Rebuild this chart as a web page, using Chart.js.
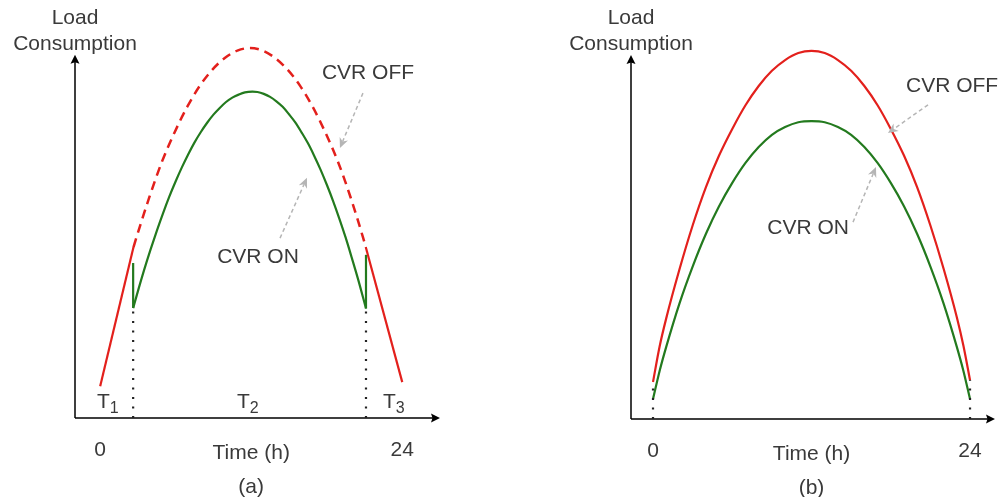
<!DOCTYPE html>
<html>
<head>
<meta charset="utf-8">
<script src="https://cdn.jsdelivr.net/npm/chart.js@4"></script>
<style>
  html, body { margin: 0; padding: 0; background: #fff; }
  #wrap { position: relative; width: 1001px; height: 497px; }
  canvas { position: absolute; top: 0; }
</style>
</head>
<body>
<div id="wrap">
  <canvas id="panelA" width="500" height="497" style="left:0"></canvas>
  <canvas id="panelB" width="501" height="497" style="left:500px"></canvas>
</div>
<script>
// x = hour of day, y = load (relative units, 100 = CVR OFF peak)
const xTicks = [0, 24];

// panel (a): CVR switched on only during T2
const offT1 = [[0, 8.6], [2.65, 46.2]];
const offT2 = [[2.65, 46.2], [2.9, 49.0], [3.9, 59.6], [4.9, 69.2], [5.9, 77.1], [6.9, 84.0],
  [7.9, 89.7], [8.9, 94.1], [9.9, 97.3], [10.9, 99.3], [11.9, 100], [12.9, 99.3], [13.9, 97.3],
  [14.9, 94.1], [15.9, 89.7], [16.9, 84.0], [17.9, 77.1], [18.9, 69.2], [19.9, 59.6],
  [20.9, 48.6], [21.1, 46.2]];
const offT3 = [[21.1, 46.2], [24, 9.7]];
const onDrop = [[2.62, 41.9], [2.62, 29.7]];
const onT2 = [[2.62, 29.7], [3.0, 34.3], [3.5, 40.1], [4.0, 45.5], [4.5, 50.6], [5.0, 55.4],
  [5.5, 59.9], [6.0, 64.0], [6.5, 67.8], [7.0, 71.3], [7.5, 74.5], [8.0, 77.3], [8.5, 79.8],
  [9.0, 82.0], [9.5, 83.8], [10.0, 85.4], [10.5, 86.6], [11.0, 87.4], [11.5, 88.0],
  [12.1, 88.2], [12.5, 88.1], [13.0, 87.6], [13.5, 86.8], [14.0, 85.6], [14.5, 84.1],
  [15.0, 82.1], [15.5, 79.9], [16.0, 77.2], [16.5, 74.3], [17.0, 70.9], [17.5, 67.2],
  [18.0, 63.1], [18.5, 58.7], [19.0, 53.9], [19.5, 48.8], [20.0, 43.2], [20.5, 37.4],
  [21.12, 29.6]];
const onRise = [[21.12, 29.6], [21.12, 44.1]];
const boundA1 = [[2.62, 0], [2.62, 29.7]];
const boundA2 = [[21.12, 0], [21.12, 29.6]];

// panel (b): CVR on for the whole day
const offDay = [[0, 10.0], [0.5, 19.6], [1, 27.2], [2, 40.4], [3, 52.3], [4, 62.6], [5, 71.2],
  [6, 78.4], [7, 84.8], [8, 90.0], [9, 94.1], [10, 97.0], [11, 98.9], [12, 99.5], [13, 98.9],
  [14, 97.0], [15, 94.1], [16, 90.0], [17, 84.8], [18, 78.4], [19, 71.2], [20, 62.6],
  [21, 52.3], [22, 40.6], [23, 27.5], [23.5, 19.8], [24, 10.5]];
const onDay = [[0, 5.4], [0.5, 13.0], [1, 19.5], [2, 31.2], [3, 41.2], [4, 50.0], [5, 57.5],
  [6, 63.8], [7, 69.2], [8, 73.5], [9, 76.8], [10, 78.9], [11, 80.2], [12, 80.5], [13, 80.2],
  [14, 78.9], [15, 76.8], [16, 73.5], [17, 69.2], [18, 63.8], [19, 57.5], [20, 50.0],
  [21, 41.2], [22, 31.2], [23, 19.5], [23.5, 13.0], [24, 5.4]];
const boundB1 = [[0, 0], [0, 10.0]];
const boundB2 = [[24, 0], [24, 10.5]];

const RED = '#e3201c';
const GREEN = '#237a1e';
const TEXT = '#3a3a3a';
const FONT = '"Liberation Sans", Arial, sans-serif';

const pts = arr => arr.map(p => ({ x: p[0], y: p[1] }));

function line(data, color, extra) {
  return Object.assign({
    data: pts(data), borderColor: color, borderWidth: 2.2,
    pointRadius: 0, showLine: true, fill: false
  }, extra || {});
}
const curve = { cubicInterpolationMode: 'monotone' };
const dotted = { borderWidth: 2.2, borderDash: [2, 7.5] };

function arrowHead(ctx, x0, y0, x1, y1, len, half, notch, color) {
  const a = Math.atan2(y1 - y0, x1 - x0);
  const c = Math.cos(a), s = Math.sin(a);
  ctx.save();
  ctx.setLineDash([]);
  ctx.fillStyle = color;
  ctx.beginPath();
  ctx.moveTo(x1, y1);
  ctx.lineTo(x1 - len * c - half * s, y1 - len * s + half * c);
  ctx.lineTo(x1 - (len - notch) * c, y1 - (len - notch) * s);
  ctx.lineTo(x1 - len * c + half * s, y1 - len * s - half * c);
  ctx.closePath();
  ctx.fill();
  ctx.restore();
}

function subText(ctx, x, y, main, sub) {
  ctx.font = '21px ' + FONT;
  ctx.textAlign = 'left';
  ctx.textBaseline = 'alphabetic';
  ctx.fillText(main, x, y);
  const w = ctx.measureText(main).width;
  ctx.font = '16px ' + FONT;
  ctx.fillText(sub, x + w, y + 5);
}

const sketch = {
  id: 'sketch',
  beforeDatasetsDraw(chart, args, o) {
    const { ctx, chartArea: ca, scales: { y } } = chart;
    const top = y.getPixelForValue(o.yTip);
    ctx.save();
    ctx.strokeStyle = '#000';
    ctx.lineWidth = 1.5;
    ctx.beginPath();
    ctx.moveTo(ca.left, ca.bottom);
    ctx.lineTo(ca.left, top + 7);
    ctx.moveTo(ca.left, ca.bottom);
    ctx.lineTo(ca.right - 7, ca.bottom);
    ctx.stroke();
    arrowHead(ctx, ca.left, ca.bottom, ca.left, top, 9, 4.5, 1.5, '#000');
    arrowHead(ctx, ca.left, ca.bottom, ca.right, ca.bottom, 9, 4.5, 1.5, '#000');
    ctx.restore();
  },
  afterDatasetsDraw(chart, args, o) {
    const { ctx, chartArea: ca, scales: { x, y } } = chart;
    ctx.save();
    ctx.fillStyle = TEXT;
    ctx.font = '21px ' + FONT;
    ctx.textAlign = 'center';
    ctx.textBaseline = 'middle';
    ctx.fillText('Load', ca.left, 18);
    ctx.fillText('Consumption', ca.left, 44);
    xTicks.forEach(t => ctx.fillText(String(t), x.getPixelForValue(t), ca.bottom + 32));
    const mid = x.getPixelForValue(12);
    ctx.fillText('Time (h)', mid, ca.bottom + 35);
    ctx.fillText(o.caption, mid, ca.bottom + 69);
    o.labels.forEach(l => ctx.fillText(l.text, x.getPixelForValue(l.at[0]), y.getPixelForValue(l.at[1])));
    (o.periods || []).forEach(p =>
      subText(ctx, x.getPixelForValue(p.at[0]), y.getPixelForValue(p.at[1]), 'T', p.sub));

    o.pointers.forEach(p => {
      const x0 = x.getPixelForValue(p.from[0]), y0 = y.getPixelForValue(p.from[1]);
      const x1 = x.getPixelForValue(p.to[0]), y1 = y.getPixelForValue(p.to[1]);
      const a = Math.atan2(y1 - y0, x1 - x0);
      ctx.strokeStyle = '#b5b5b5';
      ctx.lineWidth = 1.5;
      ctx.setLineDash([4, 3]);
      ctx.beginPath();
      ctx.moveTo(x0, y0);
      ctx.lineTo(x1 - 7 * Math.cos(a), y1 - 7 * Math.sin(a));
      ctx.stroke();
      arrowHead(ctx, x0, y0, x1, y1, 10, 4.5, 3, '#b5b5b5');
    });
    ctx.restore();
  }
};

function makePanel(id, datasets, xr, padding, sk) {
  return new Chart(document.getElementById(id), {
    type: 'scatter',
    data: { datasets },
    options: {
      responsive: false,
      animation: false,
      events: [],
      layout: { padding },
      scales: {
        x: { type: 'linear', display: false, min: xr[0], max: xr[1] },
        y: { type: 'linear', display: false, min: 0, max: 110 }
      },
      plugins: { legend: { display: false }, tooltip: { enabled: false }, sketch: sk }
    },
    plugins: [sketch]
  });
}

makePanel('panelA', [
  line(boundA1, '#222', dotted),
  line(boundA2, '#222', dotted),
  line(offT1, RED),
  line(offT2, RED, Object.assign({ borderDash: [9, 6], borderWidth: 2.5 }, curve)),
  line(offT3, RED),
  line(onDrop, GREEN),
  line(onT2, GREEN, curve),
  line(onRise, GREEN)
], [-2, 27], { left: 75, right: 60, top: 11, bottom: 79 }, {
  yTip: 98.2,
  caption: '(a)',
  labels: [
    { text: 'CVR OFF', at: [21.28, 93.2] },
    { text: 'CVR ON', at: [12.54, 43.5] }
  ],
  periods: [
    { sub: '1', at: [-0.25, 2.7] },
    { sub: '2', at: [10.87, 2.7] },
    { sub: '3', at: [22.47, 2.7] }
  ],
  pointers: [
    { from: [20.88, 87.8], to: [19.05, 73.0] },
    { from: [14.29, 48.6], to: [16.43, 64.9] }
  ]
});

makePanel('panelB', [
  line(boundB1, '#222', dotted),
  line(boundB2, '#222', dotted),
  line(offDay, RED, curve),
  line(onDay, GREEN, curve)
], [-1.666, 25.89], { left: 131, right: 6, top: 12, bottom: 78 }, {
  yTip: 98.4,
  caption: '(b)',
  labels: [
    { text: 'CVR OFF', at: [22.64, 90.0] },
    { text: 'CVR ON', at: [11.74, 51.6] }
  ],
  pointers: [
    { from: [20.82, 84.9], to: [17.79, 77.3] },
    { from: [15.14, 53.2], to: [16.88, 68.1] }
  ]
});
</script>
</body>
</html>
